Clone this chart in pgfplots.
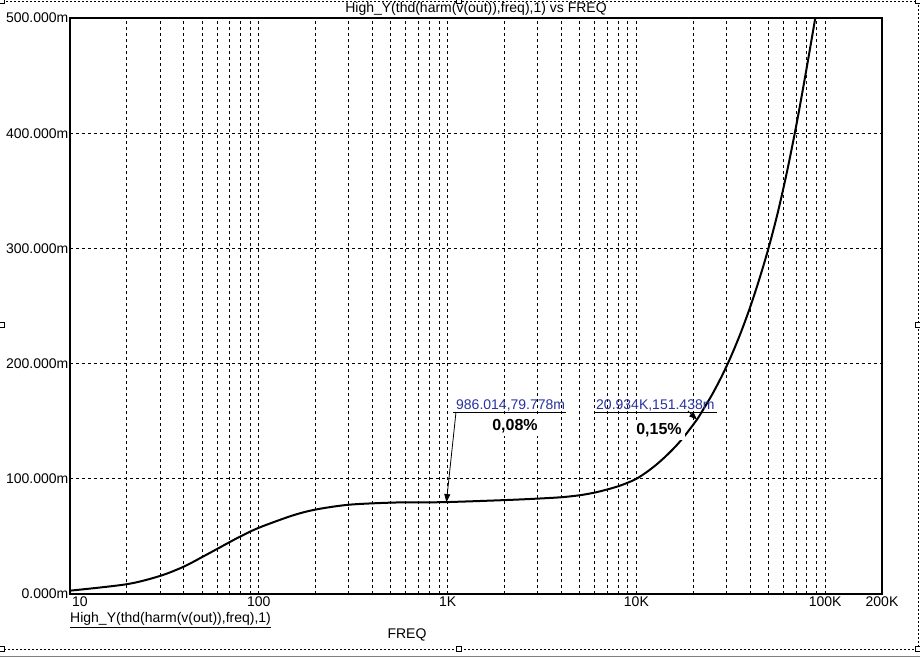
\documentclass[border=0pt]{standalone}
\usepackage{pgfplots}
\pgfplotsset{compat=1.18}
\usepackage{fontspec}
\setmainfont{Liberation Sans}
\usetikzlibrary{arrows.meta}
\definecolor{annblue}{RGB}{40,50,160}
\begin{document}
\begin{tikzpicture}[x=1pt,y=1pt]
\path[use as bounding box] (0,0) rectangle (920,658);
% outer dashed frame and handles
\draw[black, line width=0.8pt, dash pattern=on 2pt off 2pt] (2,657) -- (918,657) -- (918,9) -- (2,9);
\draw[gray, line width=1pt] (0,2) -- (920,2);
\foreach \p in {(2,657),(459,657),(918,657),(2,333),(918,333),(2,9),(459,9),(918,9)}
  \draw[black, fill=white, line width=0.6pt] \p ++(-2.5,-2.5) rectangle ++(5,5);
\node[font=\fontsize{14}{16}\selectfont] at (476,649) {High\_Y(thd(harm(v(out)),freq),1) vs FREQ};
\node[anchor=west, inner sep=0pt, font=\fontsize{14}{16}\selectfont] at (70,38) {\underline{High\_Y(thd(harm(v(out)),freq),1)}};
\node[font=\fontsize{14}{16}\selectfont] at (407,23) {FREQ};
\begin{axis}[
  at={(70pt,64pt)}, anchor=south west,
  width=812pt, height=576pt, scale only axis,
  xmode=log, xmin=10, xmax=200000, ymin=0, ymax=0.5,
  xtick={10,100,1000,10000,100000,200000},
  xticklabels={\makebox[0pt][l]{\hspace{2pt}10},100,1K,10K,100K,200K},
  minor xtick={20,30,40,50,60,70,80,90,200,300,400,500,600,700,800,900,2000,3000,4000,5000,6000,7000,8000,9000,20000,30000,40000,50000,60000,70000,80000,90000},
  ytick={0,0.1,0.2,0.3,0.4,0.5},
  yticklabels={0.000m,100.000m,200.000m,300.000m,400.000m,500.000m},
  major tick length=0pt, minor tick length=0pt,
  xmajorgrids, xminorgrids, ymajorgrids,
  grid style={black, line width=0.8pt, dash pattern=on 3pt off 3pt},
  minor grid style={black, line width=0.8pt, dash pattern=on 3pt off 3pt},
  axis line style={black, line width=1.5pt},
  tick label style={font=\fontsize{14}{16}\selectfont},
  yticklabel style={inner sep=1.5pt},
  xticklabel style={inner sep=3pt},
  clip=true,
]
\addplot[black, line width=2pt, smooth] coordinates {
(10,0.0029) (20,0.0085) (30,0.0157) (40,0.0237) (50,0.0320) (60,0.0390)
(70,0.0450) (80,0.0500) (100,0.0575) (150,0.0680) (200,0.0733) (300,0.0775)
(500,0.0793) (700,0.0796) (986.014,0.079778) (2000,0.0815) (3000,0.0828)
(4000,0.0840) (5000,0.0857) (6000,0.0880) (7000,0.0907) (8000,0.0935)
(9000,0.0966) (10000,0.1000) (11220,0.1053) (12589,0.1115) (14125,0.1187)
(15849,0.1268) (17783,0.1361) (20934,0.151438) (22387,0.1591)
(25119,0.1728) (28184,0.1883) (31623,0.2058) (35481,0.2256) (39811,0.2478)
(44668,0.2727) (50119,0.3003) (56234,0.3318) (63096,0.3683) (70795,0.4094)
(79433,0.4548) (89125,0.5023)
};
% annotation 1
\draw[black, line width=0.8pt] (axis cs:1068,0.158) -- (axis cs:4236,0.158);
\node[anchor=base west, inner sep=1pt, text=annblue, font=\fontsize{14}{16}\selectfont] at (axis cs:1094,0.1602) {986.014,79.778m};
\draw[black, line width=0.8pt, -{Triangle[length=8pt,width=6pt]}] (axis cs:1108,0.158) -- (axis cs:986.014,0.079778);
\node[fill=white, inner sep=3pt, font=\bfseries\fontsize{16}{18}\selectfont] at (axis cs:2275,0.1458) {0,08\%};
% annotation 2
\draw[black, line width=0.8pt] (axis cs:6036,0.158) -- (axis cs:26730,0.158);
\node[anchor=base west, inner sep=1pt, text=annblue, font=\fontsize{14}{16}\selectfont] at (axis cs:6036,0.1602) {20.934K,151.438m};
\draw[black, line width=0.8pt, -{Triangle[length=8pt,width=6pt]}] (axis cs:18750,0.1589) -- (axis cs:20934,0.151438);
\node[fill=white, inner sep=3pt, font=\bfseries\fontsize{16}{18}\selectfont] at (axis cs:13170,0.1424) {0,15\%};
\end{axis}
\end{tikzpicture}
\end{document}
